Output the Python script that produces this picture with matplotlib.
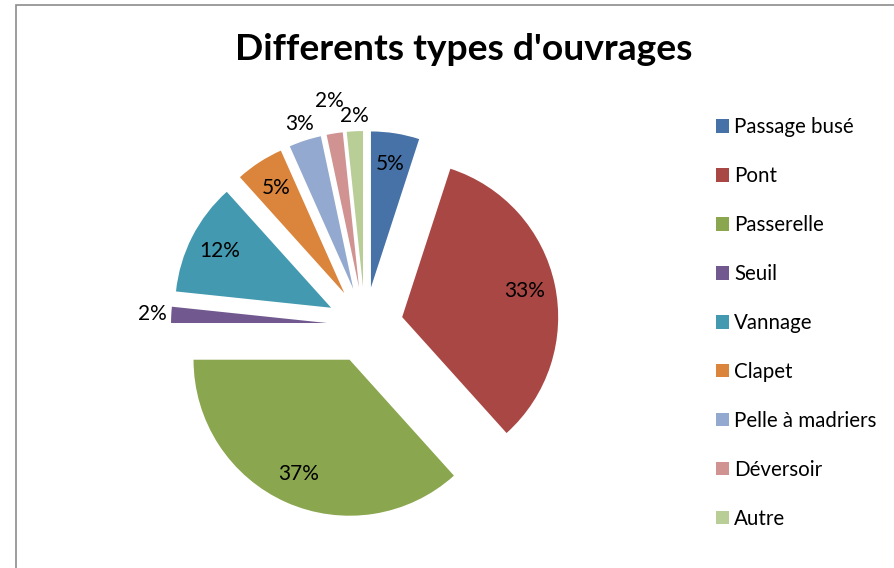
import matplotlib
matplotlib.use("Agg")
import matplotlib.pyplot as plt
from matplotlib.patches import Rectangle
import numpy as np

# data (counts, percentages as shown)
names = ["Passage busé", "Pont", "Passerelle", "Seuil", "Vannage",
         "Clapet", "Pelle à madriers", "Déversoir", "Autre"]
counts = [3, 20, 22, 1, 7, 3, 2, 1, 1]
colors = ["#4672A8", "#A94744", "#8AA64E", "#71598F", "#4299B0",
          "#DA843C", "#93A9CF", "#D09392", "#B9CD97"]
# where each % label sits, as a fraction of the radius
label_dist = [0.8, 0.8, 0.8, 1.12, 0.8, 0.8, 1.11, 1.21, 1.1]

W, H = 894, 568
plt.rcParams["font.family"] = ["Lato", "DejaVu Sans"]

fig = plt.figure(figsize=(W / 100, H / 100), dpi=100)
ax = fig.add_axes([0, 0, 1, 1])

radius = 156
wedges, _ = ax.pie(counts, colors=colors, startangle=90, counterclock=False,
                   center=(365, H - 325), radius=radius,
                   explode=[38] * len(counts),
                   wedgeprops=dict(linewidth=0))

total = sum(counts)
for w, c, d in zip(wedges, counts, label_dist):
    mid = np.deg2rad((w.theta1 + w.theta2) / 2)
    cx, cy = w.center
    ax.text(cx + d * radius * np.cos(mid), cy + d * radius * np.sin(mid),
            "%d%%" % round(100 * c / total), ha="center", va="center",
            fontsize=15, color="black")

ax.set_xlim(0, W)
ax.set_ylim(0, H)
ax.axis("off")

fig.text(464 / W, 1 - 50 / H, "Differents types d'ouvrages",
         ha="center", va="center", fontsize=26.8, fontweight="bold")

fig.legend(wedges, names, loc="upper left", bbox_to_anchor=(716 / W, 1 - 117 / H),
           frameon=False, fontsize=14.8, borderpad=0, borderaxespad=0,
           handlelength=0.64, handleheight=0.64, handletextpad=0.25,
           labelspacing=1.41)

# chart area border (only top and left edges are visible in the crop)
fig.add_artist(Rectangle((16 / W, -0.05), 1.1, 1.05 - 5 / H, transform=fig.transFigure,
                         fill=False, edgecolor="#8c8c8c", linewidth=1.2, clip_on=False))

fig.savefig("out.png", dpi=100)
